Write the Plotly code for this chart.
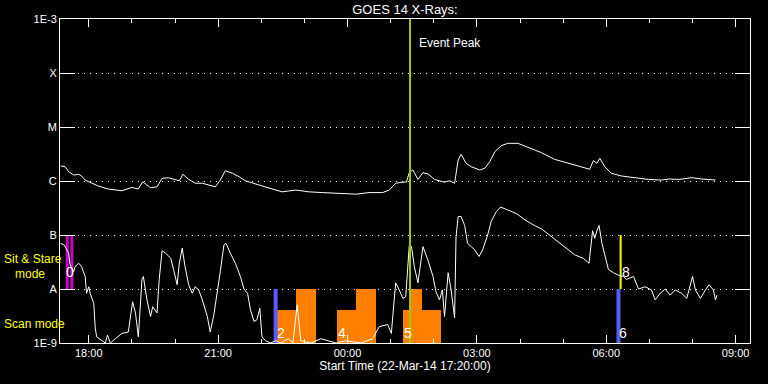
from datetime import datetime, timedelta
import plotly.graph_objects as go

START = datetime(2014, 3, 22, 17, 20)

# GOES long channel (1-8 A), minutes after start / flux W m^-2
long_min = [1, 7, 12, 19, 26, 30, 35, 44, 53, 67, 86, 100, 109, 115, 126, 135, 142, 151, 161, 166,
            171, 179, 188, 198, 216, 223, 230, 240, 249, 258, 281, 309, 328, 346, 365, 393, 412, 430, 449, 458,
            467, 477, 482, 486, 491, 498, 505, 512, 521, 535, 542, 549, 554, 558, 565, 572, 584, 591, 598, 605,
            614, 623, 637, 651, 670, 688, 707, 726, 737, 742, 747, 751, 758, 767, 781, 800, 819, 837, 847, 861,
            879, 893, 912]
long_flux = [1.90e-6, 1.84e-6, 1.49e-6, 1.29e-6, 1.33e-6, 1.24e-6, 1.04e-6, 9.1e-7, 8.1e-7, 7.1e-7,
             6.6e-7, 7.6e-7, 7.1e-7, 9.7e-7, 7.5e-7, 7.8e-7, 1.12e-6, 1.15e-6, 1.07e-6, 1.01e-6,
             1.33e-6, 1.07e-6, 9.1e-7, 9.1e-7, 7.8e-7, 1.04e-6, 1.55e-6, 1.39e-6, 1.20e-6, 1.01e-6,
             8.1e-7, 6.3e-7, 6.8e-7, 6.3e-7, 6.1e-7, 5.9e-7, 5.7e-7, 6.1e-7, 6.1e-7, 6.8e-7,
             9.1e-7, 9.5e-7, 9.6e-7, 1.44e-6, 1.60e-6, 1.07e-6, 1.43e-6, 1.35e-6, 1.07e-6, 9.5e-7,
             1.01e-6, 9.1e-7, 2.45e-6, 3.12e-6, 2.13e-6, 1.84e-6, 1.60e-6, 1.72e-6, 2.28e-6, 3.49e-6,
             4.51e-6, 4.99e-6, 4.99e-6, 4.21e-6, 3.34e-6, 2.52e-6, 2.13e-6, 1.84e-6, 1.65e-6, 2.38e-6,
             2.13e-6, 2.63e-6, 1.84e-6, 1.39e-6, 1.24e-6, 1.15e-6, 1.07e-6, 1.04e-6, 1.09e-6, 1.07e-6,
             1.15e-6, 1.09e-6, 1.04e-6]

# GOES short channel (0.5-4 A)
short_min = [1, 6, 12, 14, 19, 21, 26, 30, 35, 37, 40, 42, 47, 49, 51, 58, 63, 66, 70, 77,
             86, 95, 101, 105, 109, 114, 116, 121, 126, 129, 135, 138, 142, 147, 154, 158, 163, 166, 170, 174,
             179, 184, 188, 193, 198, 205, 209, 214, 219, 223, 228, 231, 237, 244, 251, 256, 261, 265, 270, 274,
             278, 281, 286, 293, 300, 307, 318, 324, 330, 333, 335, 349, 363, 384, 398, 419, 435, 444, 456, 461,
             465, 467, 472, 477, 481, 484, 486, 489, 493, 498, 501, 505, 512, 519, 523, 528, 532, 535, 540, 544,
             549, 551, 554, 558, 563, 567, 572, 577, 583, 588, 595, 600, 607, 613, 623, 635, 647, 660, 670, 684,
             698, 707, 716, 728, 736, 741, 744, 747, 750, 754, 758, 763, 770, 777, 784, 788, 798, 805, 814, 823,
             828, 835, 842, 849, 856, 865, 872, 877, 880, 884, 891, 898, 903, 909, 912, 914]
short_flux = [7.0e-8, 6.5e-8, 4.6e-8, 2.8e-8, 2.1e-8, 2.6e-8, 3.0e-8, 2.6e-8, 1.7e-8, 8.3e-9,
              1.1e-8, 8.3e-9, 5.4e-9, 1.9e-9, 1.3e-9, 1.1e-9, 1.0e-9, 1.4e-9, 1.0e-9, 1.2e-9,
              1.5e-9, 1.6e-9, 5.8e-9, 3.6e-9, 1.3e-9, 1.5e-8, 1.7e-8, 6.3e-9, 3.1e-9, 4.7e-9,
              3.6e-9, 1.5e-8, 5.1e-8, 4.6e-8, 3.7e-8, 2.3e-8, 1.2e-8, 3.0e-8, 5.7e-8, 2.6e-8,
              1.2e-8, 8.3e-9, 1.1e-8, 9.6e-9, 6.3e-9, 3.1e-9, 1.6e-9, 3.3e-9, 8.3e-9, 2.1e-8,
              6.5e-8, 7.0e-8, 4.6e-8, 3.0e-8, 1.7e-8, 1.0e-8, 8.3e-9, 4.1e-9, 2.5e-9, 2.7e-9,
              4.4e-9, 1.3e-9, 1.1e-9, 1.0e-9, 1.1e-9, 1.0e-9, 1.2e-9, 1.0e-9, 5.1e-9, 2.0e-9,
              1.1e-9, 1.0e-9, 1.2e-9, 1.0e-9, 1.1e-9, 1.0e-9, 1.2e-9, 2.0e-9, 2.2e-9, 1.5e-9,
              6.3e-9, 1.3e-8, 9.6e-9, 6.7e-9, 7.2e-9, 2.6e-8, 6.5e-8, 6.1e-8, 2.6e-8, 1.3e-8,
              2.6e-8, 6.1e-8, 3.4e-8, 1.7e-8, 8.9e-9, 6.3e-9, 9.6e-9, 3.1e-9, 2.0e-8, 1.0e-8,
              2.9e-9, 9.3e-8, 2.2e-7, 2.2e-7, 1.5e-7, 7.0e-8, 6.1e-8, 5.3e-8, 4.0e-8, 5.3e-8,
              1.0e-7, 1.8e-7, 2.7e-7, 3.3e-7, 2.9e-7, 2.5e-7, 1.9e-7, 1.5e-7, 1.3e-7, 9.3e-8,
              6.5e-8, 5.3e-8, 4.3e-8, 3.7e-8, 3.0e-8, 1.2e-7, 8.7e-8, 1.2e-7, 1.5e-7, 7.0e-8,
              4.0e-8, 2.3e-8, 2.0e-8, 1.8e-8, 1.7e-8, 1.5e-8, 1.7e-8, 1.0e-8, 1.1e-8, 9.6e-9,
              6.3e-9, 8.3e-9, 1.0e-8, 7.7e-9, 9.6e-9, 8.3e-9, 6.7e-9, 1.2e-8, 1.7e-8, 9.6e-9,
              6.7e-9, 9.6e-9, 1.2e-8, 9.6e-9, 6.3e-9, 7.7e-9]

# observation mode blocks (orange), minutes after start
orange_start = [301, 328, 385, 412, 477, 487, 504]
orange_end = [328, 356, 412, 440, 487, 504, 530]
orange_level = [4e-9, 1e-8, 4e-9, 1e-8, 4e-9, 1e-8, 4e-9]

sitstare_min = [10, 16.5]      # magenta marks (B..A)
scan_min = [300, 777]          # blue marks (A..1E-9)
yellow_min = [780]             # yellow mark (B..A)
peak_min = 487                 # event peak

label_text = ["0", "2", "4", "5", "6", "8"]
label_min = [14, 307, 392, 484, 783, 787]
label_logy = [-7.685, -8.815, -8.815, -8.815, -8.815, -7.685]

ytick_vals = [1e-9, 1e-8, 1e-7, 1e-6, 1e-5, 1e-4, 1e-3]
ytick_text = ["1E-9", "A", "B", "C", "M", "X", "1E-3"]


def T(m):
    return START + timedelta(minutes=m)


fig = go.Figure()

# orange bars
fig.add_trace(go.Bar(
    x=[T((s + e) / 2) for s, e in zip(orange_start, orange_end)],
    y=orange_level,
    width=[(e - s) * 60000 for s, e in zip(orange_start, orange_end)],
    marker=dict(color="#ff8000", line=dict(width=0)),
    hoverinfo="skip"))

for m in sitstare_min:
    fig.add_trace(go.Scatter(x=[T(m), T(m)], y=[1e-7, 1e-8], mode="lines",
                             line=dict(color="#cc00cc", width=3), hoverinfo="skip"))
for m in scan_min:
    fig.add_trace(go.Scatter(x=[T(m), T(m)], y=[1e-8, 1e-9], mode="lines",
                             line=dict(color="#5a5aff", width=4), hoverinfo="skip"))
for m in yellow_min:
    fig.add_trace(go.Scatter(x=[T(m), T(m)], y=[1e-7, 1e-8], mode="lines",
                             line=dict(color="#ffff00", width=2), hoverinfo="skip"))

fig.add_trace(go.Scatter(x=[T(m) for m in long_min], y=long_flux, mode="lines",
                         line=dict(color="white", width=1), hoverinfo="skip"))
fig.add_trace(go.Scatter(x=[T(m) for m in short_min], y=short_flux, mode="lines",
                         line=dict(color="white", width=1), hoverinfo="skip"))

fig.add_trace(go.Scatter(x=[T(peak_min), T(peak_min)], y=[1e-9, 1e-3], mode="lines",
                         line=dict(color="#99cc00", width=2), hoverinfo="skip"))

annotations = []
for t, m, ly in zip(label_text, label_min, label_logy):
    annotations.append(dict(x=T(m), y=ly, xref="x", yref="y", text=t, showarrow=False,
                            font=dict(color="white", size=14), xanchor="center", yanchor="middle"))
annotations.append(dict(x=T(497), y=-3.444, xref="x", yref="y", text="Event Peak", showarrow=False,
                        font=dict(color="white", size=12), xanchor="left", yanchor="middle"))
annotations.append(dict(x=-58 / 690, y=-7.444, xref="paper", yref="y", text="Sit & Stare", showarrow=False,
                        font=dict(color="#ffff00", size=12), xanchor="left", yanchor="middle"))
annotations.append(dict(x=-47 / 690, y=-7.722, xref="paper", yref="y", text="mode", showarrow=False,
                        font=dict(color="#ffff00", size=12), xanchor="left", yanchor="middle"))
annotations.append(dict(x=-58 / 690, y=-8.648, xref="paper", yref="y", text="Scan mode", showarrow=False,
                        font=dict(color="#ffff00", size=12), xanchor="left", yanchor="middle"))

fig.update_layout(
    width=768, height=384,
    paper_bgcolor="black", plot_bgcolor="black",
    margin=dict(l=60, r=18, t=19, b=41),
    showlegend=False,
    font=dict(family="Liberation Sans", size=11, color="white"),
    title=dict(text="GOES 14 X-Rays:", x=0.5, xref="paper", xanchor="center",
               y=1 - 9 / 384, yref="container", yanchor="middle", font=dict(size=13, color="white")),
    annotations=annotations,
    bargap=0,
)
fig.update_xaxes(
    type="date", range=[T(0), T(960)],
    showgrid=False, zeroline=False,
    showline=True, linecolor="white", linewidth=1, mirror="ticks",
    ticks="inside", ticklen=8, tickcolor="white", tickwidth=1,
    tick0="2014-03-22 00:00", dtick=3 * 3600000, tickformat="%H:%M",
    minor=dict(dtick=3600000, ticks="inside", ticklen=4, tickcolor="white", showgrid=False),
    title=dict(text="Start Time (22-Mar-14 17:20:00)", standoff=3, font=dict(size=12)),
    tickfont=dict(size=11),
)
fig.update_yaxes(
    type="log", range=[-9, -3],
    tickvals=ytick_vals, ticktext=ytick_text,
    showgrid=True, gridcolor="white", gridwidth=1, griddash="1px,5px",
    zeroline=False, showline=True, linecolor="white", linewidth=1, mirror="ticks",
    ticks="inside", ticklen=15, tickcolor="white", tickwidth=1,
    tickfont=dict(size=11),
)

fig.write_html("out.html", config={"displayModeBar": False},
               post_script="document.body.style.margin='0';document.body.style.background='black';")
